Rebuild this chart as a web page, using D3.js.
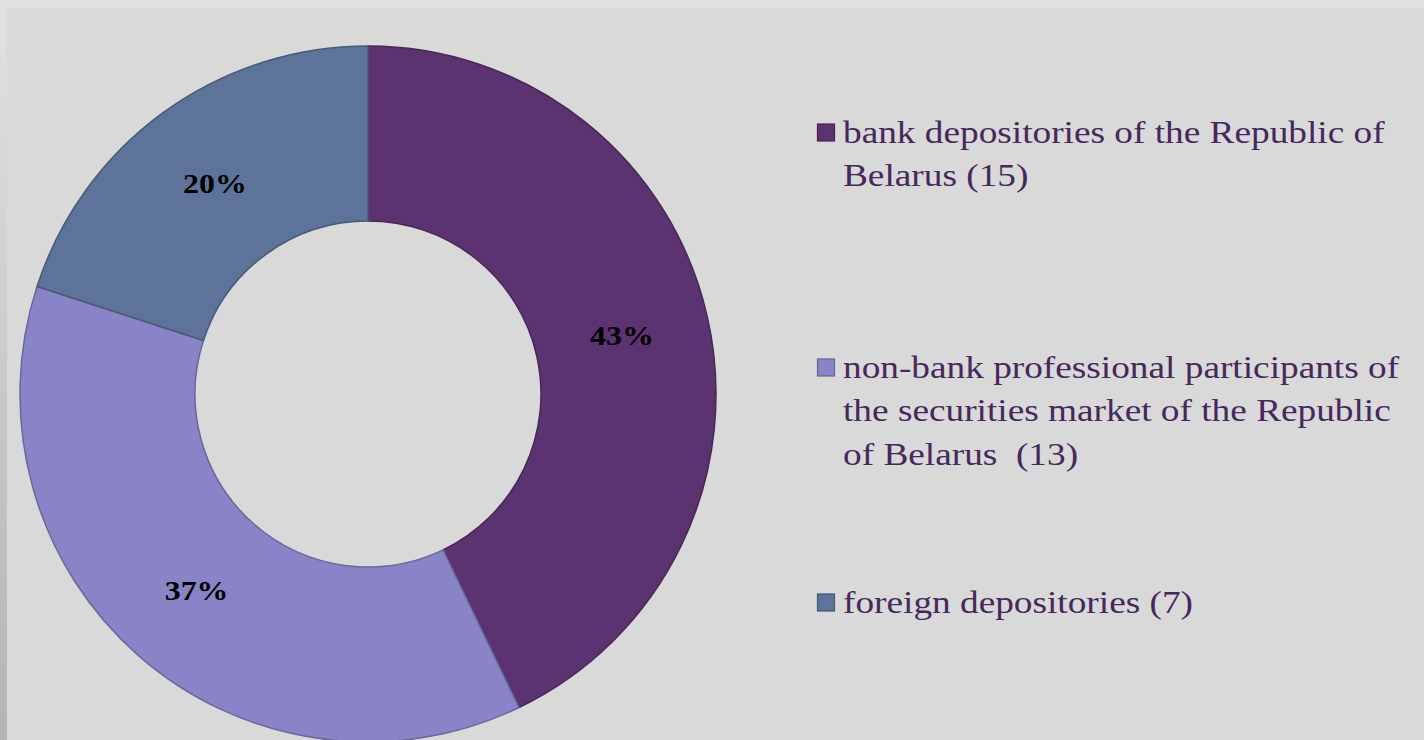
<!DOCTYPE html>
<html>
<head>
<meta charset="utf-8">
<script src="https://cdn.jsdelivr.net/npm/d3@7"></script>
<style>
html,body{margin:0;padding:0;background:#e0dfe1;}
svg{display:block;}
</style>
</head>
<body>
<svg id="chart" width="1424" height="740"></svg>
<script>
const categories = ["bank depositories of the Republic of Belarus (15)",
  "non-bank professional participants of the securities market of the Republic of Belarus  (13)",
  "foreign depositories (7)"];
const legendLines = [
  ["bank depositories of the Republic of", "Belarus (15)"],
  ["non-bank professional participants of", "the securities market of the Republic", "of Belarus  (13)"],
  ["foreign depositories (7)"]
];
const values = [15, 13, 7];
const percentLabels = ["43%", "37%", "20%"];
const colors = ["#5b3370", "#8884c7", "#5d7399"];

const svg = d3.select("#chart");
const W = 1424, H = 740;
const FONT = "'Liberation Serif','Times New Roman',serif";

// background
const defs = svg.append("defs");
const lg = defs.append("linearGradient").attr("id","leftStrip").attr("x1",0).attr("y1",0).attr("x2",0).attr("y2",1);
lg.append("stop").attr("offset","0%").attr("stop-color","#e1e0e2");
lg.append("stop").attr("offset","100%").attr("stop-color","#b6b2b6");
svg.append("rect").attr("width",W).attr("height",H).attr("fill","#e0dfe1");
svg.append("rect").attr("x",0).attr("y",8).attr("width",7).attr("height",H-8).attr("fill","url(#leftStrip)");
svg.append("rect").attr("x",7).attr("y",8).attr("width",W-7).attr("height",H-8).attr("fill","#d9d9d9");

// donut
const cx = 368, cy = 394, outerR = 348, innerR = 173;
const pie = d3.pie().sort(null).value(d => d)(values);
const arc = d3.arc().innerRadius(innerR).outerRadius(outerR);
const g = svg.append("g").attr("transform", `translate(${cx},${cy})`);
g.selectAll("path.slice").data(pie).join("path")
  .attr("class","slice")
  .attr("d", arc)
  .attr("fill", (d,i) => colors[i])
  .attr("stroke", (d,i) => d3.color(colors[i]).darker(0.7))
  .attr("stroke-width", 1.5)
  .attr("stroke-linejoin","round");

g.selectAll("text.pct").data(pie).join("text")
  .attr("class","pct")
  .attr("transform", d => `translate(${arc.centroid(d)[0]},${arc.centroid(d)[1]}) scale(1.18,1)`)
  .attr("text-anchor","middle")
  .attr("dy","0.35em")
  .attr("font-family",FONT)
  .attr("font-weight","bold")
  .attr("font-size","27px")
  .attr("fill","#000")
  .text((d,i) => percentLabels[i]);

// legend
const legend = svg.append("g").attr("transform","translate(817,0)");
const entryBaselines = [143, 378, 613];
const lineH = 43.5;
legendLines.forEach((lines, i) => {
  const gy = entryBaselines[i];
  legend.append("rect")
    .attr("x", 0.5).attr("y", gy - 19)
    .attr("width", 17).attr("height", 17)
    .attr("fill", colors[i])
    .attr("stroke", d3.color(colors[i]).darker(0.8))
    .attr("stroke-width", 1.2);
  const t = legend.append("g")
    .attr("transform", `translate(26,${gy}) scale(1.148,1)`)
    .append("text")
    .attr("font-family",FONT)
    .attr("font-size","32.5px")
    .attr("fill","#46285c")
    .style("white-space","pre");
  lines.forEach((ln, j) => {
    t.append("tspan").attr("x", 0).attr("y", j*lineH).text(ln);
  });
});
</script>
</body>
</html>
